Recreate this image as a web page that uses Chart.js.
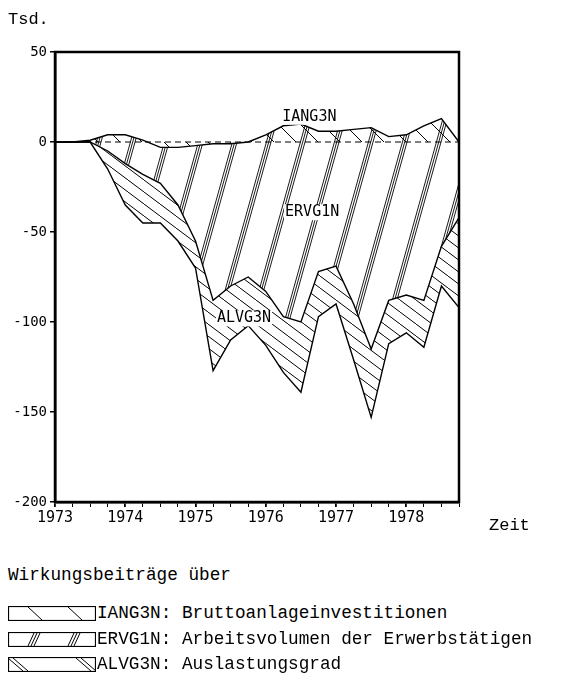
<!DOCTYPE html>
<html>
<head>
<meta charset="utf-8">
<script src="https://cdn.jsdelivr.net/npm/chart.js@4.4.1/dist/chart.umd.min.js"></script>
<style>
  html, body { margin: 0; padding: 0; background: #fff; }
  body { width: 586px; height: 677px; position: relative; overflow: hidden;
         font-family: "Liberation Mono", "DejaVu Sans Mono", monospace; color: #000; }
  #wrap { position: absolute; left: 0; top: 0; width: 586px; height: 560px; }
  .txt { position: absolute; white-space: pre; line-height: 20px; }
  .row { position: absolute; left: 8px; height: 16px; display: flex; align-items: center;
         font-size: 17.7px; white-space: pre; }
  .row canvas { display: block; margin-right: 1px; }
</style>
</head>
<body>
<div id="wrap"><canvas id="chart" width="586" height="560"></canvas></div>
<div class="txt" style="left:8px;top:10px;font-size:17px;">Tsd.</div>
<div class="txt" style="left:489px;top:516px;font-size:17px;">Zeit</div>
<div class="txt" style="left:8px;top:565px;font-size:17.7px;">Wirkungsbeiträge über</div>
<div class="row" style="top:605px;"><canvas id="sw-iang" width="88" height="15"></canvas>IANG3N: Bruttoanlageinvestitionen</div>
<div class="row" style="top:631px;"><canvas id="sw-ervg" width="88" height="15"></canvas>ERVG1N: Arbeitsvolumen der Erwerbstätigen</div>
<div class="row" style="top:656px;"><canvas id="sw-alvg" width="88" height="15"></canvas>ALVG3N: Auslastungsgrad</div>

<script>
// Quartale 1973 I .. 1978 IV (Zeitachse in Jahren)
const quarters = [
  1973.00, 1973.25, 1973.50, 1973.75,
  1974.00, 1974.25, 1974.50, 1974.75,
  1975.00, 1975.25, 1975.50, 1975.75,
  1976.00, 1976.25, 1976.50, 1976.75,
  1977.00, 1977.25, 1977.50, 1977.75,
  1978.00, 1978.25, 1978.50, 1978.75,
];

// Obere Kante: Beitrag IANG3N (Tsd.)
const iangTop = [0, 0, 1, 4, 4, 1, -3, -3, -2, -1, -1, 0,
                 4, 9, 10, 6, 6, 7, 8, 3, 4, 9, 13, 0];
// Untere Kante des ERVG1N-Bereichs
const ervgEdge = [0, 0, 0, -5, -12, -18, -23, -35, -55, -88, -80, -75,
                  -83, -97, -100, -72, -69, -90, -115, -88, -85, -88, -58, -42];
// Untere Kante des ALVG3N-Bereichs
const alvgEdge = [0, 0, 0, -15, -35, -45, -45, -55, -70, -127, -110, -102,
                  -113, -128, -139, -97, -90, -121, -153, -112, -106, -114, -80, -92];

const yTicks = [-200, -150, -100, -50, 0, 50];
const yearTicks = [1973, 1974, 1975, 1976, 1977, 1978];

// Beschriftungen im Diagramm (in Datenkoordinaten)
const bandLabels = [
  { text: 'IANG3N', x: 1976.62, y: 14 },
  { text: 'ERVG1N', x: 1976.66, y: -39 },
  { text: 'ALVG3N', x: 1975.69, y: -98 },
];

// --- Schraffuren als Canvas-Pattern -----------------------------------------
function makePattern(w, h, draw) {
  const c = document.createElement('canvas');
  c.width = w; c.height = h;
  const g = c.getContext('2d');
  g.strokeStyle = '#000';
  draw(g, w, h);
  return g.createPattern(c, 'repeat');
}

// IANG3N: einzelne "\" in weitem Abstand
const hatchIang = makePattern(22, 22, (g, w, h) => {
  g.lineWidth = 1;
  for (const b of [-w, 0, w]) { g.beginPath(); g.moveTo(b, 0); g.lineTo(b + w, h); g.stroke(); }
});
// ERVG1N: steile "///"-Gruppen
const hatchErvg = makePattern(34, 122, (g, w, h) => {
  g.lineWidth = 0.9;
  for (const b of [-w, 0, w]) {
    for (const o of [0, 2.3, 4.6]) {
      g.beginPath(); g.moveTo(b + o, h); g.lineTo(b + o + w, 0); g.stroke();
    }
  }
});
// ALVG3N: "\"-Linien
const hatchAlvg = makePattern(16, 12, (g, w, h) => {
  g.lineWidth = 1;
  for (const b of [-w, 0, w]) { g.beginPath(); g.moveTo(b, 0); g.lineTo(b + w, h); g.stroke(); }
});

const pts = (arr) => quarters.map((q, i) => ({ x: q, y: arr[i] }));

const framePlugin = {
  id: 'frame',
  afterDraw(chart) {
    const { ctx, chartArea: a, scales } = chart;
    ctx.save();
    ctx.strokeStyle = '#000';
    ctx.lineWidth = 2.5;
    ctx.strokeRect(a.left, a.top, a.right - a.left, a.bottom - a.top);
    ctx.font = '15px "DejaVu Sans Mono", monospace';
    ctx.textAlign = 'center';
    ctx.textBaseline = 'middle';
    for (const l of bandLabels) {
      const px = scales.x.getPixelForValue(l.x);
      const py = scales.y.getPixelForValue(l.y);
      const w = ctx.measureText(l.text).width;
      ctx.fillStyle = '#fff';
      ctx.fillRect(px - w / 2 - 1, py - 8, w + 2, 16);
      ctx.fillStyle = '#000';
      ctx.fillText(l.text, px, py);
    }
    ctx.restore();
  },
};

const lineStyle = { borderColor: '#000', borderWidth: 1.4, pointRadius: 0, tension: 0 };

new Chart(document.getElementById('chart'), {
  type: 'line',
  data: {
    datasets: [
      { label: 'IANG3N', data: pts(iangTop), fill: 'origin', backgroundColor: hatchIang, ...lineStyle },
      { label: 'ERVG1N', data: pts(ervgEdge), fill: '-1', backgroundColor: hatchErvg, ...lineStyle },
      { label: 'ALVG3N', data: pts(alvgEdge), fill: '-1', backgroundColor: hatchAlvg, ...lineStyle },
      { label: 'Null', data: pts(quarters.map(() => 0)), fill: false, borderColor: '#000',
        borderWidth: 1.1, borderDash: [6, 4], pointRadius: 0 },
    ],
  },
  options: {
    responsive: false,
    animation: false,
    events: [],
    layout: { padding: { top: 52, right: 127, left: 0, bottom: 0 } },
    plugins: { legend: { display: false }, tooltip: { enabled: false } },
    scales: {
      x: {
        type: 'linear', min: 1973, max: 1978.75,
        afterFit: (s) => { s.height = 58; },
        afterBuildTicks: (s) => { s.ticks = quarters.map((v) => ({ value: v })); },
        ticks: {
          autoSkip: false, maxRotation: 0, color: '#000', padding: 2,
          font: { family: '"DejaVu Sans Mono", monospace', size: 15 },
          callback: (v) => (yearTicks.includes(v) ? String(v) : ''),
        },
        grid: {
          drawOnChartArea: false, tickLength: 5, color: '#000',
          lineWidth: (c) => (c.tick && yearTicks.includes(c.tick.value) ? 1.8 : 1),
        },
        border: { display: true, color: '#000', width: 2.5 },
      },
      y: {
        min: -200, max: 50,
        afterFit: (s) => { s.width = 55; },
        afterBuildTicks: (s) => { s.ticks = yTicks.map((v) => ({ value: v })); },
        ticks: { color: '#000', padding: 3, font: { family: '"DejaVu Sans Mono", monospace', size: 14 } },
        grid: { drawOnChartArea: false, tickLength: 5, color: '#000', lineWidth: 1.5 },
        border: { display: true, color: '#000', width: 2.5 },
      },
    },
  },
  plugins: [framePlugin],
});

// --- Legendenfelder ----------------------------------------------------------
function drawSwatch(id, kind) {
  const cv = document.getElementById(id);
  const c = cv.getContext('2d');
  const w = cv.width, h = cv.height;
  c.strokeStyle = '#000';
  c.lineWidth = 1.2;
  c.strokeRect(0.5, 0.5, w - 1, h - 1);
  c.lineWidth = 1;
  const seg = (x1, y1, x2, y2) => { c.beginPath(); c.moveTo(x1, y1); c.lineTo(x2, y2); c.stroke(); };
  if (kind === 'iang') for (const x0 of [20, 60]) seg(x0, 1, x0 + 14, h - 1);
  if (kind === 'ervg') for (const x0 of [20, 60]) for (const o of [0, 3, 6]) seg(x0 + o, h - 1, x0 + o + 6, 1);
  if (kind === 'alvg') for (const x0 of [0, 68]) for (const o of [0, 5]) seg(x0 + o, 1, x0 + o + 15, h - 1);
}
drawSwatch('sw-iang', 'iang');
drawSwatch('sw-ervg', 'ervg');
drawSwatch('sw-alvg', 'alvg');
</script>
</body>
</html>
